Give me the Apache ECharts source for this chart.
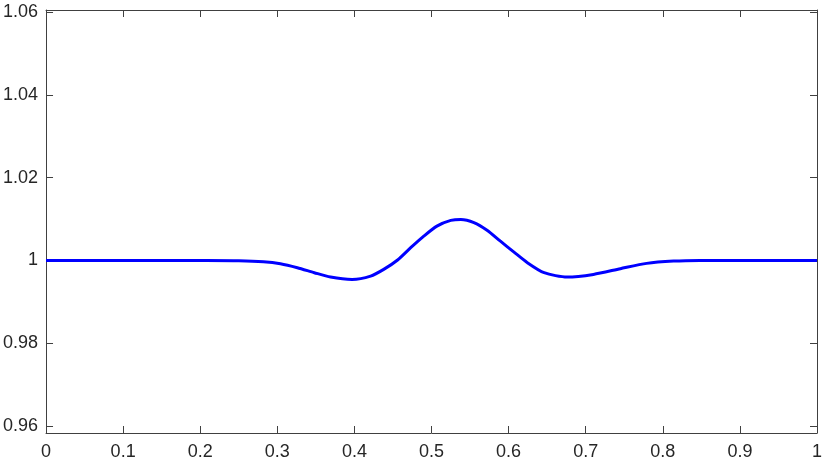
<!DOCTYPE html>
<html>
<head>
<meta charset="utf-8">
<script src="https://cdn.jsdelivr.net/npm/echarts@6/dist/echarts.min.js"></script>
<style>html,body{margin:0;padding:0;background:#fff;}#c{width:830px;height:467px;}</style>
</head>
<body>
<div id="c"></div>
<script>
var xValues = [0, 0.05, 0.1, 0.15, 0.2, 0.25, 0.282, 0.304, 0.326, 0.348, 0.369, 0.397, 0.421, 0.438, 0.456, 0.473, 0.49, 0.507, 0.525, 0.538, 0.555, 0.572, 0.589, 0.607, 0.624, 0.646, 0.676, 0.71, 0.745, 0.779, 0.814, 0.848, 0.9, 0.95, 1];
var yValues = [1, 1, 1, 1, 0.99999, 0.99993, 0.99969, 0.9992, 0.99824, 0.99703, 0.99597, 0.99541, 0.99621, 0.99783, 1.0001, 1.00307, 1.00587, 1.00829, 1.00966, 1.0099, 1.00915, 1.0073, 1.0047, 1.002, 0.9995, 0.99703, 0.99597, 0.99662, 0.998, 0.99928, 0.99983, 0.99999, 1, 1, 1];
var xTicks = [0, 0.1, 0.2, 0.3, 0.4, 0.5, 0.6, 0.7, 0.8, 0.9, 1];
var yTicks = [0.96, 0.98, 1, 1.02, 1.04, 1.06];

var data = xValues.map(function (x, i) { return [x, yValues[i]]; });
var fontFam = '"Liberation Sans", Arial, Helvetica, sans-serif';
var axisColor = '#404040';
function fmt(v) { return String(Math.round(v * 100) / 100); }

var chart = echarts.init(document.getElementById('c'));
chart.setOption({
  animation: false,
  backgroundColor: '#fff',
  grid: { left: 45, right: 13, top: 10, bottom: 34, containLabel: false },
  xAxis: [{
    type: 'value', min: 0, max: 1, position: 'bottom',
    axisLine: { show: true, onZero: false, lineStyle: { color: axisColor, width: 1 } },
    axisTick: { show: true, inside: true, length: 7, customValues: xTicks, lineStyle: { color: axisColor } },
    axisLabel: { show: true, customValues: xTicks, margin: 10, fontSize: 18, fontFamily: fontFam, color: '#262626', formatter: fmt },
    splitLine: { show: false }
  }, {
    type: 'value', min: 0, max: 1, position: 'top',
    axisLine: { show: true, onZero: false, lineStyle: { color: axisColor, width: 1 } },
    axisTick: { show: true, inside: true, length: 7, customValues: xTicks, lineStyle: { color: axisColor } },
    axisLabel: { show: false },
    splitLine: { show: false }
  }],
  yAxis: [{
    type: 'value', min: 0.9583, max: 1.0605, position: 'left',
    axisLine: { show: true, onZero: false, lineStyle: { color: axisColor, width: 1 } },
    axisTick: { show: true, inside: true, length: 7, customValues: yTicks, lineStyle: { color: axisColor } },
    axisLabel: { show: true, customValues: yTicks, margin: 8, fontSize: 18, fontFamily: fontFam, color: '#262626', formatter: fmt },
    splitLine: { show: false }
  }, {
    type: 'value', min: 0.9583, max: 1.0605, position: 'right',
    axisLine: { show: true, onZero: false, lineStyle: { color: axisColor, width: 1 } },
    axisTick: { show: true, inside: true, length: 7, customValues: yTicks, lineStyle: { color: axisColor } },
    axisLabel: { show: false },
    splitLine: { show: false }
  }],
  series: [{
    type: 'line', xAxisIndex: 0, yAxisIndex: 0,
    data: data, smooth: 0.25, showSymbol: false, symbol: 'none',
    lineStyle: { color: '#0000ff', width: 3 }
  }]
});
</script>
</body>
</html>
